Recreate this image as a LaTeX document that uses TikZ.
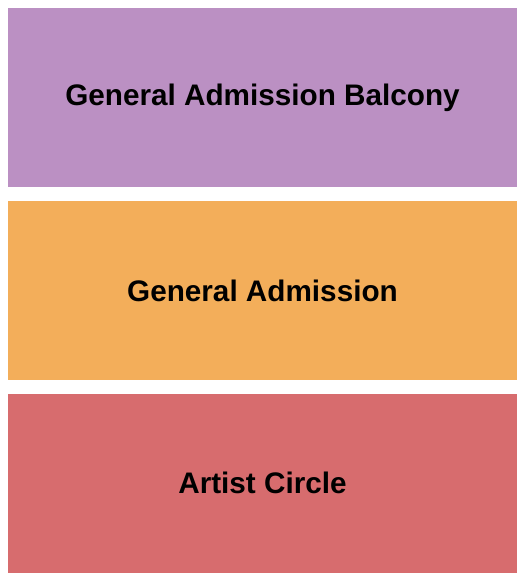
\documentclass[tikz,border=0pt]{standalone}
\usepackage{fontspec}
\setmainfont{Liberation Sans}
\usetikzlibrary{positioning}
\definecolor{balconyc}{HTML}{BB90C3}
\definecolor{generalc}{HTML}{F3AE5A}
\definecolor{artistc}{HTML}{D76C6E}

\begin{document}
\begin{tikzpicture}[x=1pt,y=-1pt]
    \useasboundingbox[fill=white] (0,0) rectangle (525,580);
    \tikzset{SectionStyle/.style = {%
        shape= rectangle,
        inner sep= 0pt,
        minimum width = 509pt,
        minimum height = 179pt,
        font= \bfseries\fontsize{29.7}{34}\selectfont}}
    \node[SectionStyle,fill=balconyc] (balcony) at (262.5,97.5) {General Admission Balcony};
    \node[SectionStyle,fill=generalc,below=14pt of balcony] (general) {General Admission};
    \node[SectionStyle,fill=artistc,below=13pt of general] (artist) {Artist Circle};
\end{tikzpicture}
\end{document}
